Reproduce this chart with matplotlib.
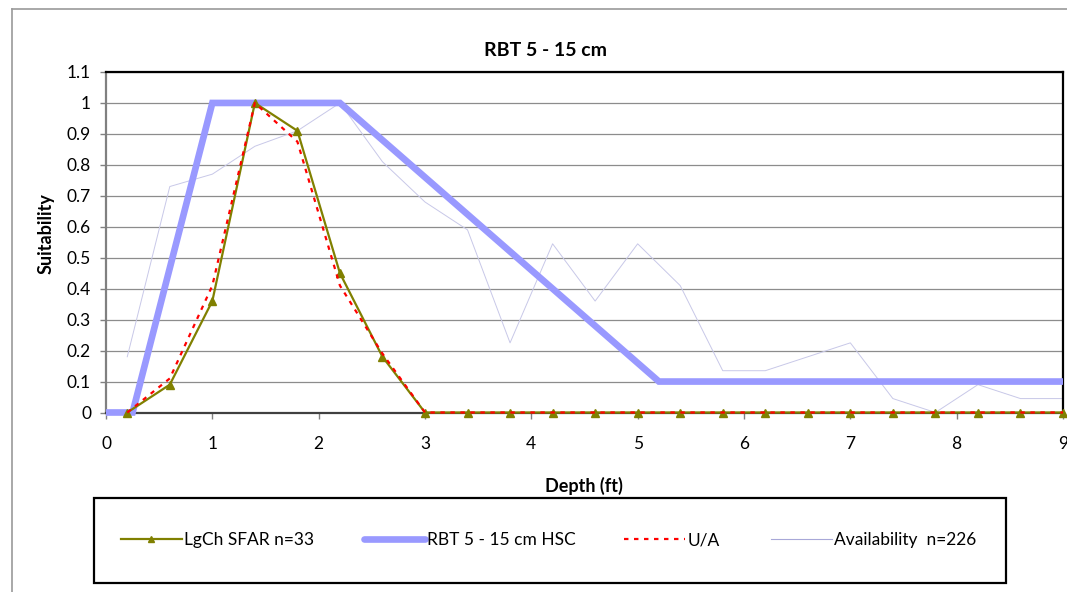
import matplotlib
matplotlib.use("Agg")
import matplotlib.pyplot as plt
from matplotlib.lines import Line2D
from matplotlib.patches import Rectangle

plt.rcParams['font.family'] = ['Lato', 'DejaVu Sans']

# ---- data ----
depth = [0.2, 0.6, 1.0, 1.4, 1.8, 2.2, 2.6, 3.0, 3.4, 3.8, 4.2, 4.6, 5.0, 5.4,
         5.8, 6.2, 6.6, 7.0, 7.4, 7.8, 8.2, 8.6, 9.0]
lgch_sfar = [0, 0.09, 0.36, 1.0, 0.91, 0.45, 0.18, 0, 0, 0, 0, 0, 0, 0,
             0, 0, 0, 0, 0, 0, 0, 0, 0]
u_a = [0, 0.11, 0.41, 1.0, 0.875, 0.41, 0.19, 0, 0, 0, 0, 0, 0, 0,
       0, 0, 0, 0, 0, 0, 0, 0, 0]
availability = [0.18, 0.73, 0.77, 0.86, 0.91, 1.0, 0.81, 0.68, 0.59, 0.225,
                0.545, 0.36, 0.545, 0.41, 0.135, 0.135, 0.18, 0.225, 0.045,
                0.0, 0.09, 0.045, 0.045]
hsc_depth = [0, 0.25, 1.0, 2.2, 5.2, 9.0]
hsc_value = [0, 0, 1.0, 1.0, 0.1, 0.1]

title = "RBT 5 - 15 cm"
xlabel = "Depth (ft)"
ylabel = "Suitability"
labels = ["LgCh SFAR n=33", "RBT 5 - 15 cm HSC", "U/A", "Availability  n=226"]
xticks = list(range(0, 10))
yticks = [0, 0.1, 0.2, 0.3, 0.4, 0.5, 0.6, 0.7, 0.8, 0.9, 1.0, 1.1]
ytick_labels = ["0", "0.1", "0.2", "0.3", "0.4", "0.5", "0.6", "0.7", "0.8", "0.9", "1", "1.1"]

W, H = 1067, 592
fig = plt.figure(figsize=(W / 100, H / 100), dpi=100)

def fx(px):
    return px / W

def fy(py):
    return 1 - py / H

# outer chart border
fig.add_artist(Line2D([fx(12), fx(12)], [fy(9), 0], color='#9a9a9a', lw=1.2))
fig.add_artist(Line2D([fx(12), 1], [fy(9), fy(9)], color='#9a9a9a', lw=1.2))

left, right, top, bottom = 106, 1063, 72, 412.5
ax = fig.add_axes([fx(left), fy(bottom), fx(right - left), (bottom - top) / H])

ax.set_xlim(0, 9)
ax.set_ylim(0, 1.1)
ax.set_xticks(xticks)
ax.set_yticks(yticks)
ax.set_yticklabels(ytick_labels)
ax.yaxis.grid(True, color='#8c8c8c', lw=0.9)
ax.set_axisbelow(True)

ax.plot(depth, availability, color='#c8c8e8', lw=0.7, clip_on=False, zorder=2)
ax.plot(hsc_depth, hsc_value, color='#9999ff', lw=4.8, solid_joinstyle='miter',
        solid_capstyle='butt', clip_on=False, zorder=3)
ax.plot(depth, lgch_sfar, color='#808000', lw=1.6, marker='^', markersize=6,
        markerfacecolor='#808000', markeredgecolor='#808000', clip_on=False, zorder=4)
ax.plot(depth, u_a, color='#ff0000', lw=1.6, linestyle=(0, (2, 2.5)), clip_on=False, zorder=5)

for s in ['top', 'right']:
    ax.spines[s].set_color('black')
    ax.spines[s].set_linewidth(1.6)
ax.spines['left'].set_color('#808080')
ax.spines['left'].set_linewidth(1.6)
ax.spines['bottom'].set_color('#404040')
ax.spines['bottom'].set_linewidth(1.6)
ax.tick_params(axis='both', direction='out', length=4.3, width=1, color='#808080',
               labelsize=12.5)
ax.tick_params(axis='y', pad=6.5)
ax.tick_params(axis='x', pad=12.5)

fig.text(fx(546), fy(50), title, ha='center', va='center', fontsize=14, fontweight='bold')
fig.text(fx(584), fy(486), xlabel, ha='center', va='center', fontsize=13, fontweight='bold')
fig.text(fx(46), fy(234), ylabel, ha='center', va='center', fontsize=13,
         fontweight='bold', rotation=90)

# legend box
fig.add_artist(Rectangle((fx(94), fy(583)), fx(1006 - 94), (583 - 498) / H,
                         fill=False, edgecolor='black', lw=1.6))

handles = [
    Line2D([0, 0.5, 1], [0, 0, 0], color='#808000', lw=1.6, marker='^', markersize=5,
           markevery=[1]),
    Line2D([], [], color='#9999ff', lw=4.8, solid_capstyle='round'),
    Line2D([], [], color='#ff0000', lw=1.6, linestyle=(0, (2, 2.5))),
    Line2D([], [], color='#a8a8d8', lw=0.8),
]
starts = [121, 364, 624, 771]
for h, lab, x0 in zip(handles, labels, starts):
    fig.legend([h], [lab], loc='center left', bbox_to_anchor=(fx(x0), fy(540)),
               frameon=False, fontsize=12.5, handlelength=3.5, handletextpad=0.15,
               borderpad=0, borderaxespad=0)

fig.savefig('out.png', dpi=100)
